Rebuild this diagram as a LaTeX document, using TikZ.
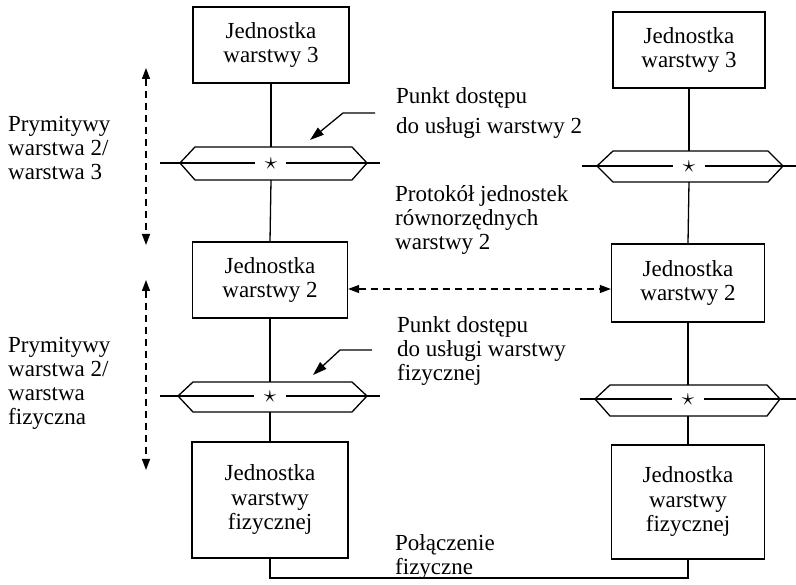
\documentclass[tikz,border=0pt]{standalone}
\usepackage{fontspec}
\setmainfont{Liberation Serif}
\usetikzlibrary{arrows.meta}
\tikzset{
  unit/.style={draw, line width=1.3pt, minimum width=155pt, minimum height=76pt, align=center, inner sep=0pt, font=\fontsize{23}{24.5}\selectfont},
  lbl/.style={align=left, anchor=north west, inner sep=0pt, font=\fontsize{23}{24}\selectfont},
  conn/.style={line width=1.3pt},
  hexa/.style={line width=1.3pt},
  starmark/.style={inner sep=0pt, font=\fontsize{26}{26}\selectfont},
  dasharr/.style={line width=1.3pt, dash pattern=on 7pt off 5pt, {Triangle[length=11pt,width=8pt]}-{Triangle[length=11pt,width=8pt]}},
  ptr/.style={line width=1.3pt, -{Triangle[length=14pt,width=9pt]}},
}
\begin{document}
\begin{tikzpicture}[x=1pt,y=-1pt]
\useasboundingbox (0,0) rectangle (796,585);
% boxes
\node[unit, minimum width=156pt] (t3l) at (271,45) {Jednostka\\warstwy 3};
\node[unit, minimum width=152pt] (t3r) at (689,50) {Jednostka\\warstwy 3};
\node[unit] (t2l) at (270,280) {Jednostka\\warstwy 2};
\node[unit, minimum width=153pt, minimum height=78pt] (t2r) at (688,283) {Jednostka\\warstwy 2};
\node[unit, minimum width=156pt, minimum height=116pt] (t1l) at (270,500) {Jednostka\\warstwy\\fizycznej};
\node[unit, minimum width=153pt, minimum height=114pt] (t1r) at (688,502) {Jednostka\\warstwy\\fizycznej};
% hexagons (service access points)
% upper left
\coordinate (hul) at (271,147); \coordinate (hulb) at (271,180);
\draw[hexa] (180,163) -- (195,147) -- (352,147) -- (367,163) -- (352,180) -- (195,180) -- cycle;
\draw[conn] (160,163) -- (255,163) (286,163) -- (380,163);
\node[starmark] (sul) at (271,164) {$\star$};
% upper right
\coordinate (hur) at (689,151); \coordinate (hurb) at (689,182);
\draw[hexa] (597,166) -- (613,151) -- (768,151) -- (783,166) -- (768,182) -- (613,182) -- cycle;
\draw[conn] (582,166) -- (673,166) (705,166) -- (797,166);
\node[starmark] (sur) at (689,167) {$\star$};
% lower left
\coordinate (hll) at (270,382); \coordinate (hllb) at (270,412);
\draw[hexa] (178,396) -- (193,382) -- (352,382) -- (367,396) -- (352,412) -- (193,412) -- cycle;
\draw[conn] (160,396) -- (254,396) (286,396) -- (380,396);
\node[starmark] (sll) at (270,397) {$\star$};
% lower right
\coordinate (hlr) at (688,385); \coordinate (hlrb) at (688,416);
\draw[hexa] (595,399) -- (610,385) -- (767,385) -- (780,399) -- (767,416) -- (610,416) -- cycle;
\draw[conn] (580,399) -- (672,399) (704,399) -- (796,399);
\node[starmark] (slr) at (688,400) {$\star$};
% vertical connectors
\draw[conn] (t3l.south) -- (hul);
\draw[conn] (hulb) -- (t2l.north);
\draw[conn] (t2l.south) -- (hll);
\draw[conn] (hllb) -- (t1l.north);
\draw[conn] (t3r.south) -- (hur);
\draw[conn] (hurb) -- (t2r.north);
\draw[conn] (t2r.south) -- (hlr);
\draw[conn] (hlrb) -- (t1r.north);
% physical connection
\coordinate (pl) at (270,578); \coordinate (pr) at (688,578);
\draw[conn] (t1l.south) -- (pl) -- (pr) -- (t1r.south);
% peer protocol
\draw[dasharr] (t2l.east |- 0,289) -- (t2r.west |- 0,289);
% left primitives arrows
\coordinate (a1) at (146,68); \coordinate (a2) at (146,245);
\coordinate (a3) at (146,280); \coordinate (a4) at (146,470);
\draw[dasharr] (a1) -- (a2);
\draw[dasharr] (a3) -- (a4);
% pointer arrows
\coordinate (p1) at (375,113); \coordinate (p1k) at (343,113); \coordinate (p1t) at (310,140);
\draw[ptr] (p1) -- (p1k) -- (p1t);
\coordinate (p2) at (372,350); \coordinate (p2k) at (340,350); \coordinate (p2t) at (313,375);
\draw[ptr] (p2) -- (p2k) -- (p2t);
% labels
\node[lbl] (L1) at (8,116) {Prymitywy\\warstwa 2/\\warstwa 3};
\node[lbl] (L2) at (8,337) {Prymitywy\\warstwa 2/\\warstwa\\fizyczna};
\node[lbl] (P1) at (396,87) {Punkt dostępu\\[6pt]do usługi warstwy 2};
\node[lbl] (PR) at (395,185) {Protokół jednostek\\równorzędnych\\warstwy 2};
\node[lbl] (P2) at (397,316) {Punkt dostępu\\do usługi warstwy\\fizycznej};
\node[lbl] (PC) at (395,534) {Połączenie\\fizyczne};
\end{tikzpicture}
\end{document}
